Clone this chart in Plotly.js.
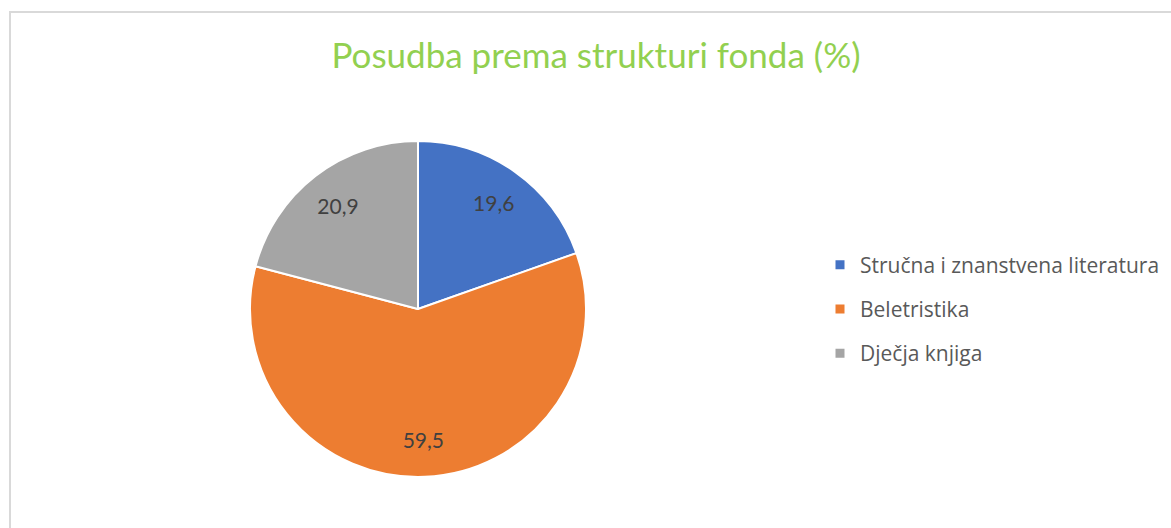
<!DOCTYPE html>
<html><head><meta charset="utf-8">
<script src="https://cdn.plot.ly/plotly-3.0.1.min.js"></script>
<style>html,body{margin:0;padding:0;background:#fff;}#chart{width:1171px;height:528px;}</style>
</head><body><div id="chart"></div>
<script>
const categories = ["Stručna i znanstvena literatura", "Beletristika", "Dječja knjiga"];
const values = [19.6, 59.5, 20.9];
const colors = ["#4472C4", "#ED7D31", "#A5A5A5"];
const titleText = "Posudba prema strukturi fonda (%)";

const W = 1171, H = 528;
const cx = 418, cy = 309, R = 168;
const dom = {x: [(cx - R) / W, (cx + R) / W], y: [1 - (cy + R) / H, 1 - (cy - R) / H]};

const traces = [
  {type: 'pie', labels: categories, values: values, sort: false, direction: 'clockwise', rotation: 0,
   marker: {colors: colors, line: {color: '#ffffff', width: 2}}, textinfo: 'none', hoverinfo: 'label+value',
   showlegend: false, domain: dom},
  {type: 'pie', labels: categories, values: values, sort: false, direction: 'clockwise', rotation: 0, hole: 0.56,
   marker: {colors: ['rgba(0,0,0,0)', 'rgba(0,0,0,0)', 'rgba(0,0,0,0)'], line: {width: 0}},
   texttemplate: '%{value:.1f}', textposition: 'inside', insidetextorientation: 'horizontal',
   textfont: {family: 'Lato', size: 21, color: '#404040'}, hoverinfo: 'skip', showlegend: false, domain: dom}
];
categories.forEach((c, i) => {
  traces.push({type: 'scatter', x: [null], y: [null], mode: 'markers', name: c, legendgroup: 'g' + i,
    marker: {symbol: 'square', size: 9, color: colors[i]}, hoverinfo: 'skip'});
});

const layout = {
  width: W, height: H, margin: {l: 0, r: 0, t: 0, b: 0},
  paper_bgcolor: '#ffffff', plot_bgcolor: 'rgba(0,0,0,0)',
  separators: ', ',
  title: {text: titleText, x: 596 / W, xanchor: 'center', y: 1 - 56 / H, yanchor: 'middle', yref: 'container',
    font: {family: 'Lato', size: 35, color: '#92D050'}},
  xaxis: {visible: false}, yaxis: {visible: false},
  showlegend: true,
  legend: {x: 820 / W, xanchor: 'left', y: 1 - 309 / H, yanchor: 'middle', traceorder: 'grouped', tracegroupgap: 14,
    font: {family: 'Open Sans', size: 21, color: '#595959'}, bgcolor: 'rgba(0,0,0,0)'},
  shapes: [{type: 'rect', xref: 'paper', yref: 'paper', x0: 10 / W, x1: 1.2, y0: -0.2, y1: 1 - 12 / H,
    line: {color: '#d9d9d9', width: 2}, fillcolor: 'rgba(0,0,0,0)', layer: 'below'}]
};
Plotly.newPlot('chart', traces, layout, {displayModeBar: false, staticPlot: true});
</script></body></html>
